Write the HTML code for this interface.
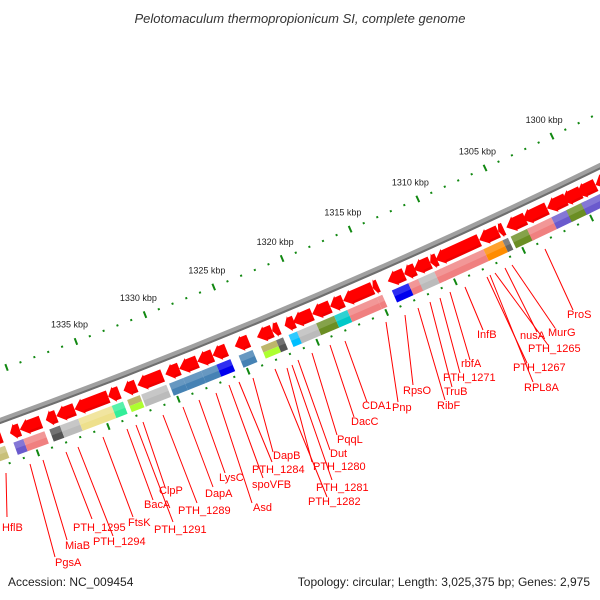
<!DOCTYPE html>
<html><head><meta charset="utf-8"><style>
html,body{margin:0;padding:0;background:#fff;width:600px;height:600px;overflow:hidden}
svg{display:block;font-family:"Liberation Sans",sans-serif}
</style></head><body>
<svg id="map" width="600" height="600" viewBox="0 0 600 600" xmlns="http://www.w3.org/2000/svg">
<defs><clipPath id="cl"><rect x="0" y="24" width="600" height="548"/></clipPath></defs>
<text x="300" y="23" text-anchor="middle" font-size="13" font-style="italic" fill="#333">Pelotomaculum thermopropionicum SI, complete genome</text>
<g id="plot" clip-path="url(#cl)"></g>
<g id="labels"></g>
<text x="8" y="586" font-size="12" fill="#222">Accession: NC_009454</text>
<text x="590" y="586" text-anchor="end" font-size="12" fill="#222">Topology: circular; Length: 3,025,375 bp; Genes: 2,975</text>
</svg>
<script>
// gene data (kbp)
const geneStart=[1342.6,1341.3,1340.6,1338.75,1338.0,1336.7,1334.3,1333.2,1332.2,1330.2,1329.2,1327.9,1326.8,1325.2,1323.6,1322.5,1321.6,1321.0,1319.6,1318.3,1317.35,1315.2,1314.1,1312.9,1312.2,1311.0,1310.6,1307.4,1306.0,1305.4,1304.2,1302.4,1301.3,1300.2,1298.8];
const geneEnd=[1341.9,1340.6,1339.1,1338.0,1336.7,1334.3,1333.5,1332.3,1330.4,1329.2,1327.9,1326.8,1325.8,1324.2,1322.5,1322.0,1320.9,1319.6,1318.3,1317.35,1315.2,1314.8,1312.9,1312.1,1311.0,1310.5,1307.4,1306.0,1305.6,1304.0,1302.4,1301.0,1299.9,1298.8,1297.8];
const geneCog=["#c8c07a","#6a5acd","#f08080","#555555","#bbbbbb","#eee08c","#33ee99","split","#bbbbbb","#4682b4","#4682b4","#4682b4","#0000ee","#4682b4","split","#555555","#00bfff","#bbbbbb","#6b8e23","#00c8c8","#f08080","#f08080","#0000ee","#f08080","#bbbbbb","#f08080","#f08080","#ff8c00","#666666","#6b8e23","#f08080","#6a5acd","#6b8e23","#6a5acd","#bbbbbb"];
const tickLabels=[1300,1305,1310,1315,1320,1325,1330,1335];
const labelNames=["HflB","PgsA","MiaB","PTH_1295","PTH_1294","FtsK","BacA","ClpP","PTH_1291","PTH_1289","DapA","LysC","Asd","spoVFB","PTH_1284","DapB","PTH_1280","PTH_1281","PTH_1282","Dut","PqqL","DacC","CDA1","Pnp","RpsO","RibF","TruB","PTH_1271","rbfA","InfB","PTH_1267","RPL8A","PTH_1265","nusA","MurG","ProS"];
const labelPos=[[2,531,6,473,7,517],[55,566,30,464,55,557],[65,549,43,460,67,540],[73,531,66,452,92,519],[93,545,78,447,113,536],[128,526,103,437,133,517],[144,508,127,429,153,500],[159,494,143,422,165,487],[154,533,136,425,173,522],[178,514,163,415,197,503],[205,497,183,407,213,487],[219,481,199,400,225,473],[253,511,216,393,252,503],[252,488,229,385,263,478],[252,473,239,382,272,462],[273,459,253,378,273,452],[313,470,287,368,312,462],[316,491,292,365,332,480],[308,505,275,369,327,497],[330,457,298,360,330,450],[337,443,312,353,337,435],[351,425,330,345,354,417],[362,409,345,341,367,402],[392,411,386,322,398,402],[403,394,405,315,413,385],[437,409,418,308,445,400],[444,395,430,302,452,387],[443,381,440,298,460,373],[461,367,450,292,470,360],[477,338,465,287,483,330],[513,371,487,277,527,363],[524,391,490,275,533,382],[528,352,495,273,548,345],[520,339,505,268,537,332],[548,336,512,265,555,328],[567,318,545,249,573,310]];

const NS="http://www.w3.org/2000/svg";
const cx=-2062, cy=-5269, R=6052;
function ang(p){return (69.14+(p-1335)*0.1414)*Math.PI/180;}
function pt(p,r){const a=ang(p);return [cx+r*Math.cos(a),cy+r*Math.sin(a)];}
function poly(pts){return pts.map(q=>q[0].toFixed(2)+","+q[1].toFixed(2)).join(" ");}
const plot=document.getElementById("plot");
function mk(tag,attrs,parent){const e=document.createElementNS(NS,tag);for(const k in attrs)e.setAttribute(k,attrs[k]);(parent||plot).appendChild(e);return e;}

function arcPath(r){const a=pt(1346,r),b=pt(1295,r);return "M"+a[0]+","+a[1]+" A"+r+","+r+" 0 0 0 "+b[0]+","+b[1];}
let bb=mk("path",{d:arcPath(R),fill:"none",stroke:"#a0a0a0","stroke-width":6});


let bb2=mk("path",{d:arcPath(R+2),fill:"none",stroke:"#6e6e6e","stroke-width":2});



for(let k=1295;k<=1346;k++){
  [R-48,R+43].forEach(function(r){
    let e;
    if(k%5===0){const a=pt(k,r-3.5),b=pt(k,r+3.5);e=mk("line",{x1:a[0],y1:a[1],x2:b[0],y2:b[1],stroke:"#118811","stroke-width":2});}
    else{const a=pt(k,r-1),b=pt(k,r+1);e=mk("line",{x1:a[0],y1:a[1],x2:b[0],y2:b[1],stroke:"#118811","stroke-width":2});}
    
    
  });
}
tickLabels.forEach(function(k){
  const a=pt(k,R-66);
  const t=mk("text",{x:a[0],y:a[1]+3,"text-anchor":"middle","font-size":"9",fill:"#222"});
  t.textContent=k+" kbp";
  
  
});

for(let i=0;i<geneStart.length;i++){
  const s=geneStart[i], e=geneEnd[i];
  const len=s-e, head=Math.min(0.6,len*0.55);
  const r1=R+7, r2=R+23, rm=(r1+r2)/2;
  const hb=s-head;
  const arrow=mk("polygon",{points:poly([pt(e,r1+1.5),pt(hb,r1+1.5),pt(hb,r1),pt(s,rm),pt(hb,r2),pt(hb,r2-1.5),pt(e,r2-1.5)]),fill:"#ff0000"});
  
  
  const hl=mk("polygon",{points:poly([pt(e,rm+4),pt(hb,rm+4),pt(hb,r2),pt(hb,r2-1.5),pt(e,r2-1.5)]),fill:"#cc0000","fill-opacity":"0.35"});
  
  
  const c1=R+25, c2=R+38, cm=(c1+c2)/2;
  const col=geneCog[i];
  if(col==="split"){
    const b1=mk("polygon",{points:poly([pt(e,c1),pt(s,c1),pt(s,cm),pt(e,cm)]),fill:"#bdb76b"});
    
    
    const b2=mk("polygon",{points:poly([pt(e,cm),pt(s,cm),pt(s,c2),pt(e,c2)]),fill:"#adff2f"});
    
    
  } else {
    const b=mk("polygon",{points:poly([pt(e,c1),pt(s,c1),pt(s,c2),pt(e,c2)]),fill:col});
    
    
    const h=mk("polygon",{points:poly([pt(e,c1),pt(s,c1),pt(s,cm),pt(e,cm)]),fill:"#ffffff","fill-opacity":"0.18"});
    
    
  }
}

const lg=document.getElementById("labels");
for(let i=0;i<labelNames.length;i++){
  const p=labelPos[i];
  const l=mk("line",{x1:p[2],y1:p[3],x2:p[4],y2:p[5],stroke:"#ff0000","stroke-width":1},lg);
  
  
  const t=mk("text",{x:p[0],y:p[1],"font-size":"11",fill:"#ff0000"},lg);
  t.textContent=labelNames[i];
  
  
}
</script>
</body></html>
